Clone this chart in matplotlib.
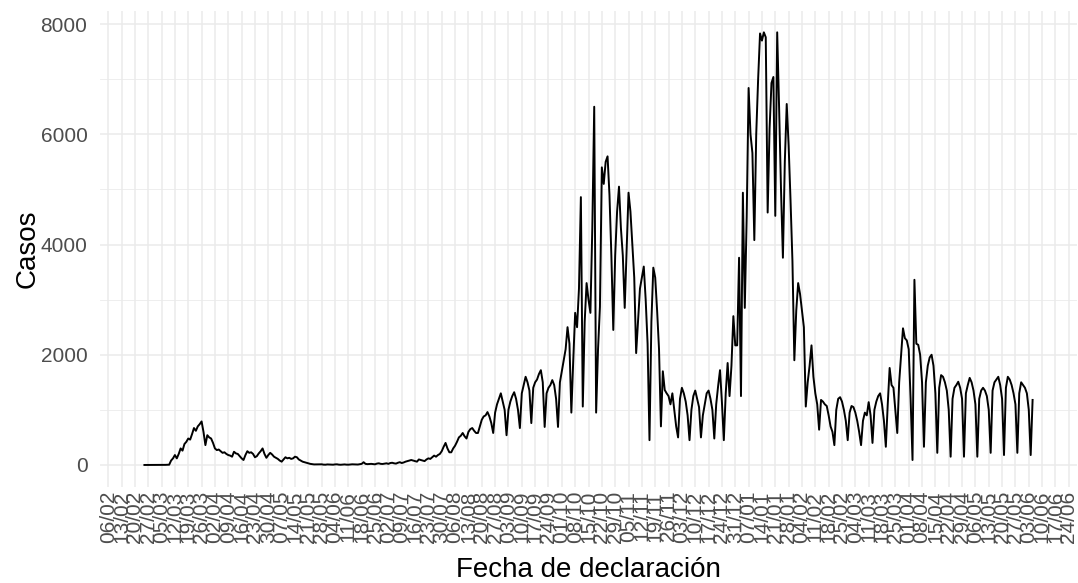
import pandas as pd
import matplotlib
matplotlib.use("Agg")
import matplotlib.pyplot as plt
import matplotlib.dates as mdates
from matplotlib.ticker import MultipleLocator

plt.rcParams['font.family'] = ['Liberation Sans', 'DejaVu Sans']

fecha_inicio = "2020-02-25"

# casos diarios por fecha de declaración
casos_feb_may = [
    0, 0, 0, 0, 0, 0, 0,
    0, 0, 1, 0, 2, 3, 5,
    80, 120, 180, 120, 200, 300, 260,
    380, 420, 480, 460, 560, 670, 620,
    700, 740, 790, 600, 360, 540, 500,
    480, 400, 300, 270, 280, 250, 220,
    230, 200, 180, 170, 150, 240, 210,
    200, 160, 120, 90, 180, 250, 220,
    230, 200, 140, 160, 210, 250, 300,
    200, 130, 180, 220, 190, 150, 130,
    110, 80, 60, 100, 140, 120, 130,
    110, 120, 150, 140, 100, 80, 60,
    50, 40, 30, 20, 15, 10, 10,
]
casos_may_ago = [
    10, 8, 12, 6, 5, 10, 8,
    7, 5, 10, 12, 6, 4, 8,
    10, 6, 5, 8, 12, 10, 6,
    8, 15, 20, 50, 20, 15, 18,
    20, 15, 12, 25, 30, 20, 18,
    25, 30, 20, 35, 40, 30, 25,
    40, 50, 35, 45, 60, 70, 80,
    90, 80, 70, 60, 100, 90, 80,
    70, 100, 120, 110, 140, 170, 150,
    180, 200, 250, 330, 400, 300, 230,
    230, 300, 350, 420, 500, 530, 580,
    520, 480, 600, 650, 670, 620, 580,
]
casos_ago_nov = [
    580, 700, 820, 880, 900, 960, 880,
    760, 580, 950, 1100, 1200, 1300, 1150,
    1000, 540, 1000, 1150, 1250, 1320, 1200,
    1000, 670, 1300, 1450, 1600, 1500, 1350,
    760, 1400, 1500, 1550, 1650, 1720, 1500,
    690, 1300, 1400, 1450, 1540, 1450, 1200,
    690, 1500, 1700, 1900, 2100, 2500, 2200,
    950, 1900, 2760, 2500, 3200, 4860, 1060,
    2600, 3300, 3000, 2760, 4300, 6500, 950,
    2100, 2870, 5400, 5100, 5500, 5600, 4900,
    3800, 2450, 3800, 4600, 5050, 4300, 3800,
    2850, 3900, 4940, 4600, 4000, 3400, 2030,
    2600, 3200, 3400, 3600, 3000, 2200, 450,
    2600, 3580, 3400, 2800, 2100, 700, 1700,
]
casos_nov_feb = [
    1360, 1300, 1250, 1100, 1300, 1000, 700,
    500, 1200, 1400, 1300, 1150, 900, 450,
    1000, 1250, 1350, 1200, 1050, 500, 900,
    1100, 1300, 1350, 1200, 1000, 480, 1100,
    1430, 1720, 1140, 450, 1300, 1850, 1250,
    1800, 2700, 2170, 2170, 3760, 1250, 4940,
    2850, 4500, 6840, 6000, 5660, 4080, 6000,
    7000, 7830, 7700, 7850, 7760, 4580, 6100,
    6930, 7040, 4520, 7850, 6490, 5000, 3760,
    5500, 6550, 5800, 4800, 3700, 1900, 2800,
    3300, 3100, 2800, 2500, 1060, 1500, 1800,
    2170, 1600, 1300, 1100, 640, 1180, 1150,
    1100, 1070, 900, 700, 600, 360, 1000,
    1200, 1230, 1150, 1000, 800, 450, 950,
]
casos_feb_jun = [
    1070, 1050, 950, 800, 600, 360, 800,
    950, 900, 1140, 900, 400, 1000, 1150,
    1250, 1300, 1100, 800, 330, 1100, 1760,
    1450, 1400, 1000, 580, 1500, 2000, 2480,
    2300, 2260, 2100, 1200, 90, 3360, 2200,
    2180, 2000, 1500, 330, 1500, 1800, 1950,
    2000, 1800, 1300, 220, 1400, 1630, 1600,
    1500, 1350, 1000, 150, 1200, 1400, 1450,
    1510, 1400, 1200, 150, 1300, 1450, 1580,
    1500, 1350, 1100, 150, 1200, 1350, 1400,
    1350, 1250, 1000, 220, 1350, 1500, 1550,
    1600, 1450, 1200, 180, 1400, 1600, 1550,
    1450, 1300, 1100, 220, 1300, 1500, 1450,
    1400, 1300, 1000, 180, 1180,
]

casos = casos_feb_may + casos_may_ago + casos_ago_nov + casos_nov_feb + casos_feb_jun
fechas = pd.date_range(fecha_inicio, periods=len(casos), freq="D")

fig = plt.figure(figsize=(10.78, 5.83), dpi=100)
W, H = 1078, 583
left, right, top, bottom = 100, 1077, 10.7, 486.6
ax = fig.add_axes([left / W, 1 - bottom / H, (right - left) / W, (bottom - top) / H])

ax.plot(fechas, casos, color="black", linewidth=1.4, zorder=3)

# límites estilo ggplot (expansión del 5 %)
x0, x1 = mdates.date2num(fechas[0]), mdates.date2num(fechas[-1])
dx = (x1 - x0) * 0.05
ax.set_xlim(x0 - dx, x1 + dx)
ymax = max(casos)
ax.set_ylim(-0.05 * ymax, ymax * 1.05)

semanas = pd.date_range("2020-02-06", "2021-06-24", freq="7D")
ax.set_xticks(mdates.date2num(semanas))
ax.set_xticklabels([d.strftime("%d/%m") for d in semanas], rotation=90)
ax.set_yticks([0, 2000, 4000, 6000, 8000])
ax.yaxis.set_minor_locator(MultipleLocator(1000))

ax.grid(True, which="major", color="#EBEBEB", linewidth=1.1, zorder=0)
ax.grid(True, which="minor", axis="y", color="#EBEBEB", linewidth=0.6, zorder=0)
ax.set_axisbelow(True)
for s in ax.spines.values():
    s.set_visible(False)
ax.tick_params(axis="both", which="both", length=0, labelsize=15, labelcolor="#4D4D4D")
ax.tick_params(axis="y", pad=9)
ax.tick_params(axis="x", pad=3)

ax.set_xlabel("Fecha de declaración", fontsize=20, labelpad=10)
ax.set_ylabel("Casos", fontsize=20, labelpad=0)

fig.savefig("out.png", dpi=100)
